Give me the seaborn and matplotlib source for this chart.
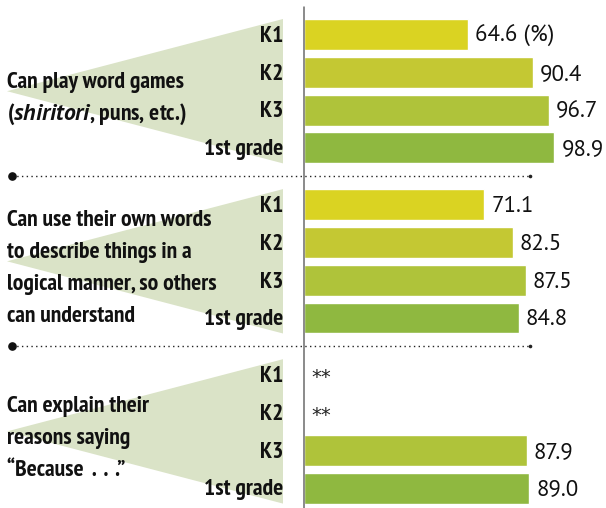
import numpy as np
import pandas as pd
import matplotlib
matplotlib.use("Agg")
import matplotlib.pyplot as plt
import seaborn as sns
from matplotlib import font_manager
from matplotlib.patches import Polygon

# Data (%)
behaviors = [
    ["Can play word games", "($\\mathit{shiritori}$, puns, etc.)"],
    ["Can use their own words", "to describe things in a",
     "logical manner, so others", "can understand"],
    ["Can explain their", "reasons saying", "\u201cBecause  .  .  .\u201d"],
]
grades = ["K1", "K2", "K3", "1st grade"]
values_word_games = [64.6, 90.4, 96.7, 98.9]
values_own_words = [71.1, 82.5, 87.5, 84.8]
values_because = [np.nan, np.nan, 87.9, 89.0]  # ** = not asked
grade_colors = ["#DAD322", "#C4C833", "#AFC33A", "#8FB840"]

fonts = font_manager.fontManager.ttflist


def pick_font(*names):
    avail = {f.name for f in fonts}
    for n in names:
        if n in avail:
            return n
    return "DejaVu Sans"


label_font = pick_font("PT Sans Narrow", "Roboto Condensed", "Fira Sans Condensed",
                       "Asap Condensed", "Barlow Condensed", "Archivo Narrow")
value_font = pick_font("PT Sans", "Open Sans", "Noto Sans")
has_italic = any(f.name == label_font and f.style == "italic" for f in fonts)
italic_font = label_font if has_italic else pick_font("PT Sans", "Open Sans")
label_size = 17
value_size = 16.5

sns.set_style("white")
plt.rcParams["mathtext.fontset"] = "custom"
plt.rcParams["mathtext.it"] = f"{italic_font}:italic:bold"
plt.rcParams["mathtext.rm"] = f"{label_font}:bold"

# Long table; groups separated by a half-slot gap
group_step = 4.5
rows = []
for g, vals in enumerate([values_word_games, values_own_words, values_because]):
    for i, (grade, v) in enumerate(zip(grades, vals)):
        rows.append({"group": g, "grade": grade, "value": v, "pos": g * group_step + i})
df = pd.DataFrame(rows)

# pixel -> data helpers (figure is 606x508 px, axes fill it)
px_per_unit = 2.527
x_zero_px = 304.5
slot_px = 37.8
y_zero_px = 34.5


def X(px):
    return (px - x_zero_px) / px_per_unit


def Y(py):
    return (py - y_zero_px) / slot_px


fig = plt.figure(figsize=(6.06, 5.08), dpi=100)
ax = fig.add_axes([0, 0, 1, 1])

sns.barplot(data=df, x="value", y="pos", hue="grade", hue_order=grades,
            palette=grade_colors, orient="h", native_scale=True, dodge=False,
            width=0.82, saturation=1, errorbar=None, legend=False, ax=ax)

half = 0.41
line_step = 32 / slot_px
for g, lines in enumerate(behaviors):
    sub = df[df["group"] == g]
    top, bottom = sub["pos"].min(), sub["pos"].max()
    center = (top + bottom) / 2
    tri = Polygon([(X(7), center), (X(283), top - half), (X(283), bottom + half)],
                  closed=True, facecolor="#DAE3C7", edgecolor="none", zorder=0)
    ax.add_patch(tri)
    # baselines spread evenly around a point a little below the group centre
    mid = center + 13 / slot_px
    for k, line in enumerate(lines):
        yb = mid + (k - (len(lines) - 1) / 2) * line_step
        ax.text(X(7), yb, line, ha="left", va="baseline",
                fontsize=label_size, fontweight="bold", family=label_font,
                color="#111111", zorder=3)

    for _, r in sub.iterrows():
        ax.text(X(283), r["pos"] + 0.05, r["grade"], ha="right", va="center",
                fontsize=label_size, fontweight="bold", family=label_font,
                color="#111111", zorder=3)
        if np.isnan(r["value"]):
            ax.text(X(311), r["pos"] + 0.22, "**", ha="left", va="baseline",
                    fontsize=14, family="DejaVu Sans", color="#222222")
        else:
            txt = f"{r['value']:.1f}"
            if g == 0 and r["grade"] == "K1":
                txt += " (%)"
            ax.text(r["value"] + 7 / px_per_unit, r["pos"] + 0.05, txt,
                    ha="left", va="center", fontsize=value_size,
                    family=value_font, color="#111111")

# dotted separators between groups
for g in range(len(behaviors) - 1):
    y = (g * group_step + 3 + (g + 1) * group_step) / 2
    ax.plot([X(12), X(530)], [y, y], linestyle=(0, (1, 2.4)), lw=1.0,
            color="#222222", dash_capstyle="butt")
    ax.plot(X(12), y, "o", ms=5.2, color="#111111")
    ax.plot(X(530), y, "o", ms=1.6, color="#222222")

# vertical baseline
ax.plot([X(304), X(304)], [Y(7), Y(508)], color="#6b6b6b", lw=1.1, zorder=4)

ax.set_xlim(X(0), X(606))
ax.set_ylim(Y(508), Y(0))
ax.axis("off")

fig.savefig("out.png", dpi=100)
